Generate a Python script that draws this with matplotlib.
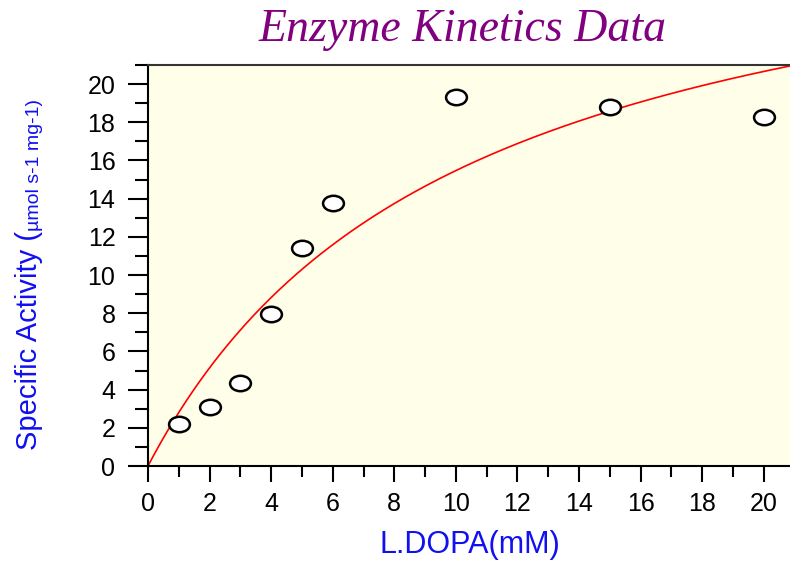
import numpy as np
import matplotlib.pyplot as plt
from matplotlib.path import Path
from matplotlib.transforms import Affine2D
from matplotlib.ticker import MultipleLocator

# data
ldopa = [1, 2, 3, 4, 5, 6, 10, 15, 20]
activity = [2.2, 3.1, 4.35, 7.95, 11.4, 13.8, 19.3, 18.8, 18.3]

# michaelis-menten fit parameters
vmax = 31.1
km = 10.1

BLUE = "#1010F0"

fig = plt.figure(figsize=(7.9, 5.62), dpi=100, facecolor="white")
ax = fig.add_axes([0.1873, 0.1708, 0.8127, 0.7135])
ax.set_facecolor("#FFFEE8")

xs = np.linspace(0, 20.85, 300)
ax.plot(xs, vmax * xs / (km + xs), color="red", lw=1.2, zorder=2)

ellipse = Path.unit_circle().transformed(Affine2D().scale(1.35, 1.0))
ax.plot(ldopa, activity, linestyle="none", marker=ellipse, markersize=15,
        markerfacecolor="white", markeredgecolor="black", markeredgewidth=1.8,
        zorder=3)

ax.set_xlim(0, 20.85)
ax.set_ylim(0, 21)

ax.xaxis.set_major_locator(MultipleLocator(2))
ax.xaxis.set_minor_locator(MultipleLocator(1))
ax.yaxis.set_major_locator(MultipleLocator(2))
ax.yaxis.set_minor_locator(MultipleLocator(1))

ax.tick_params(which="both", direction="out", width=1.5, labelsize=18)
ax.tick_params(axis="y", which="major", length=14.4, pad=9)
ax.tick_params(axis="y", which="minor", length=9.5)
ax.tick_params(axis="x", which="major", length=11.5, pad=7.5)
ax.tick_params(axis="x", which="minor", length=8)
for lab in ax.get_xticklabels() + ax.get_yticklabels():
    lab.set_fontfamily("Liberation Sans")

ax.spines["right"].set_visible(False)
for s in ["left", "bottom", "top"]:
    ax.spines[s].set_linewidth(1.5)
ax.spines["top"].set_color("#333333")

fig.text(0.585, 0.947, "Enzyme Kinetics Data", ha="center", va="center",
         fontsize=33, fontstyle="italic", family="Liberation Serif",
         color="#800080")

fig.text(0.595, 0.03, "L.DOPA(mM)", ha="center", va="center",
         fontsize=22, color=BLUE, family="Liberation Sans")

# y label in two sizes, placed end to end
big = fig.text(0.055, 0.199, "Specific Activity (", ha="right", va="bottom",
               rotation=90, fontsize=21, color=BLUE, family="Liberation Sans")
fig.canvas.draw()
bb = big.get_window_extent().transformed(fig.transFigure.inverted())
fig.text(0.055, bb.y1, "\u00b5mol s-1 mg-1)", ha="right", va="bottom",
         rotation=90, fontsize=14, color=BLUE, family="Liberation Sans")

plt.savefig("out.png", dpi=100, facecolor=fig.get_facecolor())
plt.close(fig)
